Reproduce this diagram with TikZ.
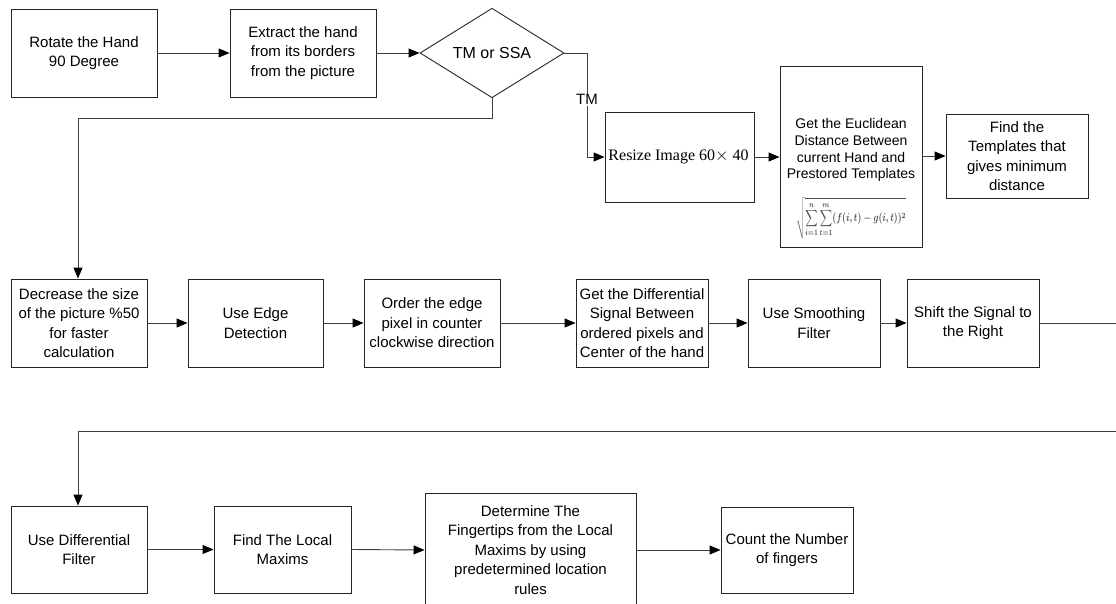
\documentclass[tikz,border=0pt]{standalone}
\usepackage{fontspec}
\usepackage{graphicx}
\setmainfont{Liberation Sans}
\newfontfamily\serifface{Liberation Serif}
\usetikzlibrary{shapes.geometric,arrows.meta}

\begin{document}
\begin{tikzpicture}[x=1pt,y=-1pt,
  stepbox/.style={draw=black!85, line width=0.9pt, align=center, inner sep=1pt,
    minimum height=88pt, font=\fontsize{15}{19.5}\selectfont},
  decision/.style={draw=black!85, line width=0.9pt, diamond, inner sep=0pt,
    minimum width=144pt, minimum height=86pt, font=\fontsize{16}{19}\selectfont},
  link/.style={draw=black!75, line width=0.9pt, -{Triangle[length=11pt,width=9pt,color=black]}},
  lbl/.style={fill=white, inner sep=1pt, font=\fontsize{15}{18}\selectfont}
]
\useasboundingbox (0,0) rectangle (1116,604);
\fill[white] (0,0) rectangle (1116,604);
\clip (0,0) rectangle (1116,604);

% first row: template matching branch
\node[stepbox, minimum width=146pt] (rot) at (84,53) {Rotate the Hand\\90 Degree};
\node[stepbox, minimum width=146pt] (ext) at (303,53) {Extract the hand\\from its borders\\from the picture};
\node[decision] (dec) at (492,53) {TM or SSA};
\node[stepbox, minimum width=149pt, minimum height=90pt, align=left,
      font=\serifface\fontsize{16}{19}\selectfont] (rsz) at (679.5,157)
      {Resize Image 60$\times$ 40\hspace*{2pt}};
\node[draw=black!85, line width=0.9pt, minimum width=142pt, minimum height=181pt,
      inner sep=0pt] (euc) at (851,156.5) {};
\node[align=center, inner sep=0pt, font=\fontsize{14}{16.8}\selectfont] (euctxt) at (851,150)
      {Get the Euclidean\\Distance Between\\current Hand and\\Prestored Templates};
\node[inner sep=0pt, text=black!70, anchor=north] (eucf) at (851,197)
      {\resizebox*{110pt}{42pt}{\boldmath$\displaystyle\sqrt{\sum_{i=1}^{n}\sum_{t=1}^{m}(f(i,t)-g(i,t))^2}$}};
\node[stepbox, minimum width=142pt, minimum height=84pt] (fnd) at (1017,156)
      {Find the\\Templates that\\gives minimum\\distance};

% second row: signal processing
\node[stepbox, minimum width=136pt] (dsz) at (79,323) {Decrease the size\\of the picture \%50\\for faster\\calculation};
\node[stepbox, minimum width=135pt] (edg) at (255.5,323) {Use Edge\\Detection};
\node[stepbox, minimum width=136pt] (ord) at (432,323) {Order the edge\\pixel in counter\\clockwise direction};
\node[stepbox, minimum width=132pt] (dif) at (642,323) {Get the Differential\\Signal Between\\ordered pixels and\\Center of the hand};
\node[stepbox, minimum width=132pt] (smo) at (814,323) {Use Smoothing\\Filter};
\node[stepbox, minimum width=132pt] (sft) at (973,323) {Shift the Signal to\\the Right};

% third row: finger counting
\node[stepbox, minimum width=136pt, minimum height=87pt] (udf) at (79,549.5) {Use Differential\\Filter};
\node[stepbox, minimum width=137pt, minimum height=87pt] (loc) at (282.5,549.5) {Find The Local\\Maxims};
\node[stepbox, minimum width=211pt, minimum height=114pt] (det) at (530.5,550)
      {Determine The\\Fingertips from the Local\\Maxims by using\\predetermined location\\rules};
\node[stepbox, minimum width=132pt, minimum height=86pt] (cnt) at (787,550) {Count the Number\\of fingers};

% connectors, first row
\draw[link] (rot.east) -- (ext.west);
\draw[link] (ext.east) -- (dec.west);
\draw[link] (dec.east) -- (587,53) -- node[lbl, pos=0.45] {TM} (587,157) -- (rsz.west);
\draw[link] (rsz.east) -- (euc.west |- rsz.east);
\draw[link] (euc.east |- fnd.west) -- (fnd.west);
\draw[link] (dec.south) -- (492,118) -- (78,118) -- (dsz.north -| 78,0);

% connectors, second row
\draw[link] (dsz.east) -- (edg.west);
\draw[link] (edg.east) -- (ord.west);
\draw[link] (ord.east) -- (dif.west);
\draw[link] (dif.east) -- (smo.west);
\draw[link] (smo.east) -- (sft.west);
\coordinate (wrapA) at (1130,323);
\coordinate (wrapB) at (1130,431);
\draw[link] (sft.east) -- (wrapA) -- (wrapB) -- (78,431) -- (udf.north -| 78,0);

% connectors, third row
\draw[link] (udf.east) -- (loc.west);
\draw[link] (loc.east) -- (det.west);
\draw[link] (det.east) -- (cnt.west);
\end{tikzpicture}
\end{document}
